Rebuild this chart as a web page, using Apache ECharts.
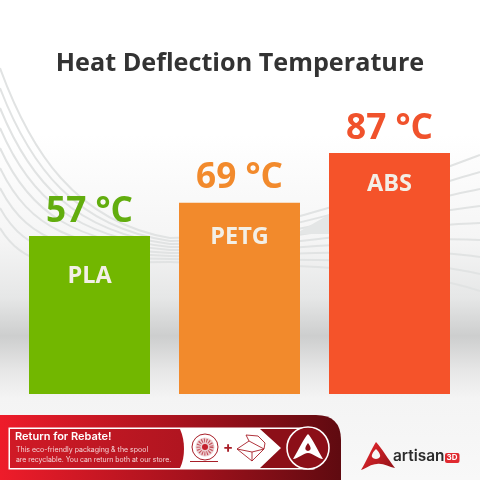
<!DOCTYPE html>
<html><head><meta charset="utf-8">
<style>html,body{margin:0;padding:0;background:#fff}#c{width:480px;height:480px}</style>
<script src="https://cdn.jsdelivr.net/npm/echarts@6/dist/echarts.min.js"></script>
</head><body><div id="c"></div>
<script>
var categories = ['PLA','PETG','ABS'];
var temperatures = [57,69,87];
var barColors = ['#72b700','#f28a2c','#f5532a'];
var labelColors = ['#62ad0e','#f28a2c','#f0522c'];
var nameDistances = [28,22,19];
var titleText = 'Heat Deflection Temperature';
var F = '"Open Sans", sans-serif';

var shapeCount=0;
function pathEl(d,z,style){
  var name='deco'+(shapeCount++);
  echarts.graphic.registerShape(name,echarts.graphic.extendPath(d,{}));
  return {type:name,silent:true,z:z,style:style};
}
function wave(x0,y0,c1x,c1y,c2x,c2y,x1,y1){
  return {type:'bezierCurve',silent:true,z:-5,
    shape:{x1:x0,y1:y0,cpx1:c1x,cpy1:c1y,cpx2:c2x,cpy2:c2y,x2:x1,y2:y1},
    style:{stroke:'#e1e3e3',lineWidth:2,fill:null}};
}
var deco=[
 {type:'rect',silent:true,z:-10,shape:{x:0,y:0,width:480,height:480},
  style:{fill:{type:'linear',x:0,y:0,x2:0,y2:1,colorStops:[{offset:0,color:'#ffffff'},{offset:.28,color:'#ffffff'},{offset:.5,color:'#f5f5f5'},{offset:.62,color:'#e6e7e7'},{offset:.7,color:'#cdcece'},{offset:.77,color:'#e6e6e6'},{offset:.83,color:'#f4f4f4'},{offset:1,color:'#f8f8f8'}]}}}
];
for(var i=0;i<9;i++){
  deco.push(wave(0,68+i*20, 30,150+i*16, 75,222+i*5, 170,238+i*3));
  deco.push(wave(170,238+i*3, 260,238+i*3.3, 400,185+i*10, 480,155+i*17));
}
deco.push({type:'polygon',silent:true,z:-4,shape:{points:[[295,234],[330,214],[330,234]]},style:{fill:'#e4e6e6'}});
var grad={type:'linear',x:0,y:0,x2:1,y2:0,colorStops:[{offset:0,color:'#ee1c2a'},{offset:.55,color:'#a5121d'},{offset:1,color:'#5f0a10'}]};
deco=deco.concat([
 pathEl('M0 415 H316 Q341 415 341 440 V480 H0 Z',20,{fill:grad}),
 {type:'rect',silent:true,z:21,shape:{x:8.5,y:427.5,width:306,height:42},style:{fill:'#fff'}},
 pathEl('M10 429 H180 Q184 438 184 449 Q184 460 180 468 H10 Z',22,{fill:{type:'linear',x:0,y:0,x2:1,y2:0,colorStops:[{offset:0,color:'#d01a26'},{offset:1,color:'#b01520'}]}}),
 pathEl('M260 429 H314 V468 H260 L281 448 Z',22,{fill:'#8c0f18'}),
 {type:'circle',silent:true,z:23,shape:{cx:308,cy:448,r:21},style:{fill:'#8c0f18',stroke:'#fff',lineWidth:1.6}},
 pathEl('M308 434 C312 438 317 449 323 459 C318 459 313 453 308 453 C303 453 298 459 293 459 C299 449 304 438 308 434 Z M308 443 C305 447 304 450 308 451 C312 450 311 447 308 443 Z',24,{fill:'#fff'}),
 {type:'text',silent:true,z:24,style:{x:15,y:431.5,text:'Return for Rebate!',font:'600 11px Inter, sans-serif',fill:'#fff'}},
 {type:'text',silent:true,z:24,style:{x:16,y:446.5,text:'This eco-friendly packaging & the spool',font:'400 7px Inter, sans-serif',fill:'#f4d4d6'}},
 {type:'text',silent:true,z:24,style:{x:16,y:456.5,text:'are recyclable. You can return both at our store.',font:'400 6.9px Inter, sans-serif',fill:'#f4d4d6'}},
 {type:'circle',silent:true,z:23,shape:{cx:205,cy:447,r:13},style:{fill:'#fff',stroke:'#a81e28',lineWidth:1}},
 {type:'circle',silent:true,z:24,shape:{cx:205,cy:447,r:9.5},style:{fill:'#eccfd1'}},
 {type:'circle',silent:true,z:24,shape:{cx:205,cy:447,r:6.5},style:{fill:null,stroke:'#c4505a',lineWidth:4,lineDash:[1,1.4]}},
 {type:'circle',silent:true,z:25,shape:{cx:205,cy:447,r:3},style:{fill:'#c4202c'}},
 {type:'line',silent:true,z:24,shape:{x1:190,y1:461.5,x2:218,y2:461.5},style:{stroke:'#a81e28',lineWidth:1}},
 {type:'text',silent:true,z:24,style:{x:228,y:447,text:'+',align:'center',verticalAlign:'middle',font:'700 15px Inter, sans-serif',fill:'#a81e28'}},
 pathEl('M237 449 L249 441 L264 449 L252 461 Z M249 441 L246 435 L258 436 L265 443 L264 449 M252 461 V452 L237 449 M252 452 L264 449',24,{fill:null,stroke:'#a81e28',lineWidth:.9}),
 pathEl('M376 442 C381 447 388 459 395 468 C389 467 383 463 377 464 C371 464 367 468 361 470 C367 460 372 448 376 442 Z M376 449 C372 453 369 458 376 459 C383 458 380 453 376 449 Z',20,{fill:{type:'linear',x:0,y:0,x2:1,y2:1,colorStops:[{offset:0,color:'#ee2a30'},{offset:1,color:'#8e1016'}]}}),
 {type:'text',silent:true,z:20,style:{x:393,y:449,text:'artisan',font:'600 15.4px Inter, sans-serif',fill:'#2b2b2b',verticalAlign:'top'}},
 {type:'rect',silent:true,z:20,shape:{x:445,y:453,width:14.5,height:10,r:2},style:{fill:'#e02a30'}},
 {type:'text',silent:true,z:21,style:{x:452,y:458,text:'3D',align:'center',verticalAlign:'middle',font:'700 8px Inter, sans-serif',fill:'#fff'}}
]);

var chart=echarts.init(document.getElementById('c'),null,{renderer:'canvas'});
chart.setOption({
  animation:false,
  backgroundColor:'transparent',
  title:{text:titleText,left:'center',top:46,textStyle:{fontFamily:F,fontWeight:700,fontSize:25.2,color:'#333333'}},
  grid:{left:14.5,width:450,top:117,height:277},
  xAxis:{type:'category',data:categories,show:false},
  yAxis:{type:'value',min:0,max:100,show:false},
  graphic:{elements:deco},
  series:[{
    type:'bar',barWidth:121,
    data:temperatures.map(function(v,i){return{value:v,itemStyle:{color:barColors[i]},
      label:{color:labelColors[i]}};}),
    label:{show:true,position:'top',distance:7,formatter:'{c} °C',fontFamily:F,fontWeight:700,fontSize:35.2}
  },{
    type:'bar',barWidth:121,barGap:'-100%',
    data:temperatures.map(function(v,i){return{value:v,itemStyle:{color:'transparent'},
      label:{distance:nameDistances[i],formatter:categories[i]}};}),
    label:{show:true,position:'insideTop',fontFamily:F,fontWeight:700,fontSize:23.5,color:'#f3efe6'}
  }]
});
</script></body></html>
